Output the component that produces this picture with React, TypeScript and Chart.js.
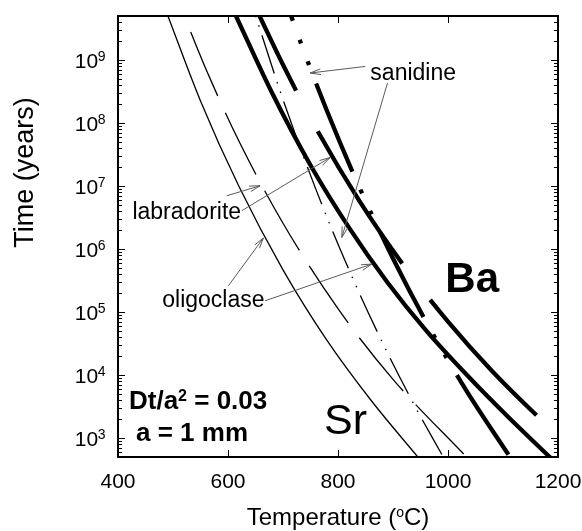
import React, { useEffect, useRef } from 'react';
import { Chart, registerables } from 'chart.js';

Chart.register(...registerables);

const FONT = "'Liberation Sans', Arial, Helvetica, sans-serif";

// Axis ticks
const xTickValues = [400, 600, 800, 1000, 1200];
const yTickExponents = [3, 4, 5, 6, 7, 8, 9];

// Temperature (°C) vs closure time (years)
// Sr (thin lines)
const srOligoclaseT = [490, 550, 620, 700, 780, 860, 946];
const srOligoclaseYears = [5.2e9, 2.24e8, 9.8e6, 4.68e5, 3.55e4, 3.98e3, 490];

const srLabradoriteT = [519.7, 560, 620, 700, 800, 900, 1034.4];
const srLabradoriteYears = [5.19e9, 7.13e8, 5.14e7, 2.57e6, 1.13e5, 8.53e3, 492];

const srSanidineT = [650.4, 700, 760, 820, 880, 940, 991.9];
const srSanidineYears = [4.97e9, 2.36e8, 8.77e6, 4.68e5, 3.39e4, 3.18e3, 492];

// Ba (thick lines)
const baOligoclaseT = [614.5, 680, 750, 820, 890, 960, 1040, 1110, 1186];
const baOligoclaseYears = [5.0e9, 3.02e8, 2.14e7, 2.19e6, 2.95e5, 5.13e4, 8.91e3, 2.14e3, 490];

const baLabradoriteT = [657.4, 700, 760, 840, 920, 1000, 1080, 1167.8, 1200];
const baLabradoriteYears = [5.0e9, 8.41e8, 8.32e7, 5.6e6, 5.41e5, 7.03e4, 1.16e4, 2.02e3, 1.12e3];

const baSanidineT = [714.8, 740, 780, 840, 900, 960, 1030, 1113.2];
const baSanidineYears = [5.0e9, 1.24e9, 1.55e8, 9.04e6, 7.06e5, 7.08e4, 6.32e3, 492];

// Leader lines (label -> curve), in data coordinates [°C, years]
const leaderFrom = [
  [849.4, 7.91e8],
  [890.0, 4.32e8],
  [597.8, 7.01e6],
  [625.1, 4.06e6],
  [600.7, 2.61e5],
  [667.5, 1.51e5],
];
const leaderTo = [
  [749.3, 6.22e8],
  [807.0, 1.53e6],
  [658.4, 1.01e7],
  [785.7, 2.84e7],
  [664.4, 1.5e6],
  [861.6, 5.78e5],
];

type Part = { text: string; size: number; bold?: boolean; rise?: number };

const annotations: { parts: Part[]; at: [number, number]; align: 'left' | 'center' }[] = [
  { parts: [{ text: 'sanidine', size: 23 }], at: [936.7, 4.78e8], align: 'center' },
  { parts: [{ text: 'labradorite', size: 23 }], at: [525.0, 2.99e6], align: 'center' },
  { parts: [{ text: 'oligoclase', size: 23 }], at: [573.4, 1.19e5], align: 'center' },
  { parts: [{ text: 'Ba', size: 42, bold: true }], at: [1044, 2.05e5], align: 'center' },
  { parts: [{ text: 'Sr', size: 43 }], at: [813.6, 1157], align: 'center' },
  {
    parts: [
      { text: 'Dt/a', size: 26, bold: true },
      { text: '2', size: 16, bold: true, rise: 8.5 },
      { text: ' = 0.03', size: 26, bold: true },
    ],
    at: [420, 2884],
    align: 'left',
  },
  { parts: [{ text: 'a = 1 mm', size: 26, bold: true }], at: [432.7, 906], align: 'left' },
];

const toPoints = (T: number[], years: number[]) => T.map((x, i) => ({ x, y: years[i] }));

function drawParts(ctx: CanvasRenderingContext2D, parts: Part[], x: number, y: number, align: 'left' | 'center') {
  const fontOf = (p: Part) => `${p.bold ? 'bold ' : ''}${p.size}px ${FONT}`;
  let total = 0;
  for (const p of parts) {
    ctx.font = fontOf(p);
    total += ctx.measureText(p.text).width;
  }
  let cx = align === 'center' ? x - total / 2 : x;
  ctx.textAlign = 'left';
  ctx.textBaseline = 'alphabetic';
  for (const p of parts) {
    ctx.font = fontOf(p);
    ctx.fillText(p.text, cx, y - (p.rise || 0));
    cx += ctx.measureText(p.text).width;
  }
}

const decorPlugin = {
  id: 'figureDecor',
  afterDatasetsDraw(chart: any) {
    const { ctx, chartArea: a, scales } = chart;
    const xs = scales.x;
    const ys = scales.y;
    ctx.save();

    // leader lines with open arrowheads
    ctx.strokeStyle = '#5a5a5a';
    ctx.lineWidth = 1;
    leaderFrom.forEach((f, i) => {
      const t = leaderTo[i];
      const x1 = xs.getPixelForValue(f[0]);
      const y1 = ys.getPixelForValue(f[1]);
      const x2 = xs.getPixelForValue(t[0]);
      const y2 = ys.getPixelForValue(t[1]);
      ctx.beginPath();
      ctx.moveTo(x1, y1);
      ctx.lineTo(x2, y2);
      const ang = Math.atan2(y2 - y1, x2 - x1);
      const L = 11;
      const h = (15 * Math.PI) / 180;
      ctx.moveTo(x2 - L * Math.cos(ang - h), y2 - L * Math.sin(ang - h));
      ctx.lineTo(x2, y2);
      ctx.lineTo(x2 - L * Math.cos(ang + h), y2 - L * Math.sin(ang + h));
      ctx.stroke();
    });

    // ticks
    ctx.strokeStyle = '#000';
    ctx.lineWidth = 1;
    ctx.beginPath();
    for (let n = 2; n <= 9; n++) {
      for (let k = 1; k <= 9; k++) {
        const v = k * Math.pow(10, n);
        if (v < ys.min * 0.999 || v > ys.max * 1.001) continue;
        const y = Math.round(ys.getPixelForValue(v)) + 0.5;
        const len = k === 1 ? 7 : 4;
        ctx.moveTo(a.left, y);
        ctx.lineTo(a.left + len, y);
        ctx.moveTo(a.right, y);
        ctx.lineTo(a.right - len, y);
      }
    }
    for (const v of xTickValues) {
      const x = Math.round(xs.getPixelForValue(v)) + 0.5;
      ctx.moveTo(x, a.bottom);
      ctx.lineTo(x, a.bottom - 7);
      ctx.moveTo(x, a.top);
      ctx.lineTo(x, a.top + 7);
    }
    ctx.stroke();

    // frame
    ctx.lineWidth = 2;
    ctx.strokeRect(a.left, a.top, a.right - a.left, a.bottom - a.top);

    ctx.fillStyle = '#000';
    // x tick labels
    ctx.font = `21px ${FONT}`;
    ctx.textAlign = 'center';
    ctx.textBaseline = 'alphabetic';
    for (const v of xTickValues) {
      ctx.fillText(String(v), xs.getPixelForValue(v), a.bottom + 30.5);
    }
    // y tick labels 10^n
    const rightEdge = a.left - 12.5;
    for (const e of yTickExponents) {
      const y = ys.getPixelForValue(Math.pow(10, e));
      ctx.font = `14px ${FONT}`;
      ctx.textAlign = 'right';
      const ew = ctx.measureText(String(e)).width;
      ctx.fillText(String(e), rightEdge, y + 0.7);
      ctx.font = `21px ${FONT}`;
      ctx.fillText('10', rightEdge - ew + 0.5, y + 7.5);
    }

    // axis titles
    drawParts(
      ctx,
      [
        { text: 'Temperature (', size: 24 },
        { text: 'o', size: 14, rise: 8.5 },
        { text: 'C)', size: 24 },
      ],
      (a.left + a.right) / 2,
      525,
      'center'
    );
    ctx.save();
    ctx.translate(33, 172.5);
    ctx.rotate(-Math.PI / 2);
    ctx.font = `27px ${FONT}`;
    ctx.textAlign = 'center';
    ctx.textBaseline = 'alphabetic';
    ctx.fillText('Time (years)', 0, 0);
    ctx.restore();

    // in-plot annotations
    for (const an of annotations) {
      drawParts(ctx, an.parts, xs.getPixelForValue(an.at[0]), ys.getPixelForValue(an.at[1]), an.align);
    }

    ctx.restore();
  },
};

export default function App() {
  const canvasRef = useRef<HTMLCanvasElement | null>(null);

  useEffect(() => {
    const canvas = canvasRef.current;
    if (!canvas) return;
    const common = {
      borderColor: '#000',
      backgroundColor: '#000',
      pointRadius: 0,
      pointHoverRadius: 0,
      fill: false,
      cubicInterpolationMode: 'monotone' as const,
      borderCapStyle: 'butt' as const,
      borderJoinStyle: 'round' as const,
    };
    const chart = new Chart(canvas, {
      type: 'line',
      data: {
        datasets: [
          { ...common, label: 'Sr oligoclase', data: toPoints(srOligoclaseT, srOligoclaseYears), borderWidth: 1.3 },
          {
            ...common,
            label: 'Sr labradorite',
            data: toPoints(srLabradoriteT, srLabradoriteYears),
            borderWidth: 1.3,
            borderDash: [69, 18.5],
            borderDashOffset: 69,
          },
          {
            ...common,
            label: 'Sr sanidine',
            data: toPoints(srSanidineT, srSanidineYears),
            borderWidth: 1.3,
            borderDash: [40, 9, 1.5, 8.5, 1.5, 9],
            borderDashOffset: 49.3,
          },
          { ...common, label: 'Ba oligoclase', data: toPoints(baOligoclaseT, baOligoclaseYears), borderWidth: 4.3 },
          {
            ...common,
            label: 'Ba labradorite',
            data: toPoints(baLabradoriteT, baLabradoriteYears),
            borderWidth: 4.3,
            borderDash: [157, 46],
            borderDashOffset: 74,
          },
          {
            ...common,
            label: 'Ba sanidine',
            data: toPoints(baSanidineT, baSanidineYears),
            borderWidth: 4.3,
            borderDash: [95, 20, 4, 19, 4, 20],
            borderDashOffset: 90,
          },
        ],
      },
      options: {
        responsive: false,
        animation: false,
        devicePixelRatio: 1,
        layout: { padding: { left: 118, right: 24, top: 16, bottom: 74 } },
        plugins: { legend: { display: false }, tooltip: { enabled: false } },
        events: [],
        scales: {
          x: { type: 'linear', min: 400, max: 1200, display: false },
          y: { type: 'logarithmic', min: 500, max: 5e9, display: false },
        },
      },
      plugins: [decorPlugin],
    });
    return () => chart.destroy();
  }, []);

  return (
    <div style={{ position: 'fixed', left: 0, top: 0, width: 582, height: 531, background: '#fff' }}>
      <canvas ref={canvasRef} width={582} height={531} style={{ display: 'block' }} />
    </div>
  );
}
